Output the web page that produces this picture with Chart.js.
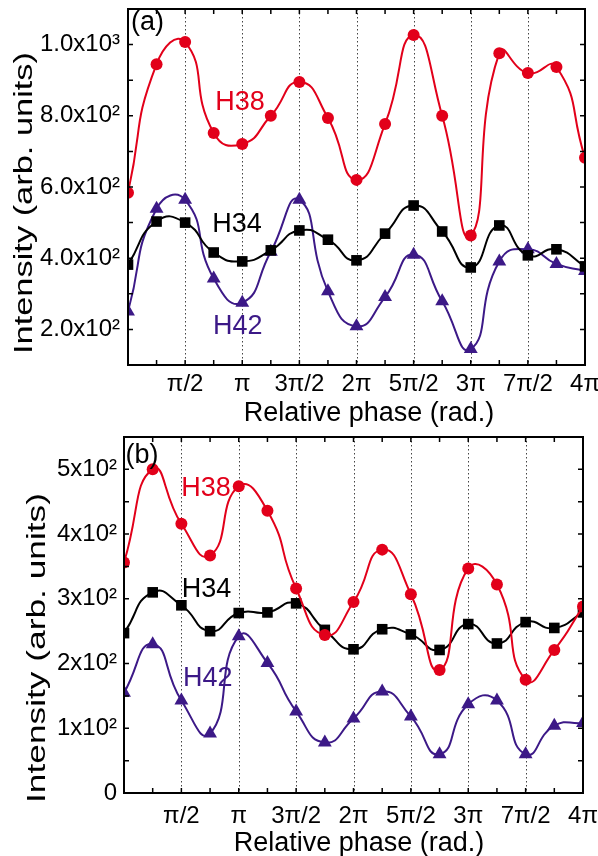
<!DOCTYPE html>
<html>
<head>
<meta charset="utf-8">
<script src="https://cdn.jsdelivr.net/npm/chart.js@4.4.1/dist/chart.umd.min.js"></script>
<style>
  body { margin: 0; background: #fff; }
  .panel { position: absolute; left: 0; width: 598px; height: 428px; }
</style>
</head>
<body>
<div class="panel" style="top:0"><canvas id="chartA" width="598" height="428"></canvas></div>
<div class="panel" style="top:428px"><canvas id="chartB" width="598" height="428"></canvas></div>
<script>
/** --------------------DATA-------------------- */

// relative phase, in units of pi
const phase = [0, 0.25, 0.5, 0.75, 1, 1.25, 1.5, 1.75, 2, 2.25, 2.5, 2.75, 3, 3.25, 3.5, 3.75, 4];
const phaseTicks = [0.5, 1, 1.5, 2, 2.5, 3, 3.5, 4];
const phaseLabels = ['π/2', 'π', '3π/2', '2π', '5π/2', '3π', '7π/2', '4π'];

// panel (a)
const h38A = [584, 945, 1007, 752, 721, 800, 895, 794, 620, 777, 1027, 800, 464, 976, 920, 937, 682];
const h34A = [382, 503, 500, 416, 391, 422, 478, 452, 394, 469, 548, 475, 374, 492, 408, 425, 377];
const h42A = [250, 539, 564, 343, 275, 418, 564, 307, 209, 291, 410, 279, 145, 391, 425, 384, 364];
const yTicksA = [200, 400, 600, 800, 1000];
const yTickLabelsA = ['2.0x10²', '4.0x10²', '6.0x10²', '8.0x10²', '1.0x10³'];

// panel (b)
const h38B = [356, 500, 416, 367, 474, 436, 316, 244, 295, 376, 307, 190, 347, 322, 175, 221, 288];
const h34B = [247, 310, 290, 250, 278, 279, 293, 252, 222, 253, 245, 221, 261, 231, 264, 255, 279];
const h42B = [155, 230, 143, 92, 242, 201, 126, 78, 115, 157, 118, 60, 137, 143, 60, 104, 108];
const yTicksB = [0, 100, 200, 300, 400, 500];
const yTickLabelsB = ['0', '1x10²', '2x10²', '3x10²', '4x10²', '5x10²'];

// text labels inside the plots (data coordinates)
const noteTextA = ['(a)', 'H38', 'H34', 'H42'];
const noteXA = [0.17, 0.98, 0.955, 0.96];
const noteYA = [1063, 836, 494, 209];
const noteTextB = ['(b)', 'H38', 'H34', 'H42'];
const noteXB = [0.157, 0.715, 0.72, 0.73];
const noteYB = [522, 471, 315, 177];

/** --------------------STYLE-------------------- */

const RED = '#e2001a';
const BLACK = '#000000';
const PURPLE = '#3c1987';
const FONT = "'Liberation Sans', Arial, sans-serif";
const noteColors = [BLACK, RED, BLACK, PURPLE];

function series(values, color, style, radius) {
    return {
        data: phase.map((p, i) => ({x: p, y: values[i]})),
        borderColor: color,
        backgroundColor: color,
        borderWidth: 2,
        tension: 0.55,
        pointStyle: style,
        pointRadius: radius,
        pointBorderWidth: 0,
        pointBackgroundColor: color,
    };
}

// frame, inward ticks, dotted lines, tick labels, titles and notes
const framePlugin = {
    id: 'frame',
    beforeDatasetsDraw(chart, args, opts) {
        const ctx = chart.ctx;
        const area = chart.chartArea;
        const xs = chart.scales.x;
        ctx.save();
        ctx.strokeStyle = '#444';
        ctx.lineWidth = 1;
        ctx.setLineDash([1.5, 2.5]);
        phaseTicks.forEach(v => {
            if (v >= 4) return;
            const px = Math.round(xs.getPixelForValue(v)) + 0.5;
            ctx.beginPath();
            ctx.moveTo(px, area.top);
            ctx.lineTo(px, area.bottom);
            ctx.stroke();
        });
        ctx.restore();
    },
    afterDatasetsDraw(chart, args, opts) {
        const ctx = chart.ctx;
        const area = chart.chartArea;
        const xs = chart.scales.x;
        const ys = chart.scales.y;
        ctx.save();
        ctx.strokeStyle = '#000';
        ctx.lineWidth = 1.5;
        xs.ticks.forEach(t => {
            const px = xs.getPixelForValue(t.value);
            ctx.beginPath();
            ctx.moveTo(px, area.bottom);
            ctx.lineTo(px, area.bottom - 5);
            ctx.moveTo(px, area.top);
            ctx.lineTo(px, area.top + 5);
            ctx.stroke();
        });
        ys.ticks.forEach(t => {
            const py = ys.getPixelForValue(t.value);
            ctx.beginPath();
            ctx.moveTo(area.left, py);
            ctx.lineTo(area.left + 5, py);
            ctx.moveTo(area.right, py);
            ctx.lineTo(area.right - 5, py);
            ctx.stroke();
        });
        ctx.lineWidth = 2;
        ctx.strokeRect(area.left, area.top, area.right - area.left, area.bottom - area.top);

        // tick labels
        ctx.fillStyle = '#000';
        ctx.font = '24px ' + FONT;
        ctx.textBaseline = 'middle';
        ctx.textAlign = 'center';
        phaseTicks.forEach((v, i) => {
            ctx.fillText(phaseLabels[i], xs.getPixelForValue(v), opts.xLabelY);
        });
        ctx.textAlign = 'right';
        opts.yTicks.forEach((v, i) => {
            ctx.fillText(opts.yLabels[i], area.left - opts.yPad, ys.getPixelForValue(v));
        });

        // notes
        ctx.font = '27px ' + FONT;
        ctx.textAlign = 'center';
        opts.notes.forEach((txt, i) => {
            ctx.fillStyle = noteColors[i];
            ctx.fillText(txt, xs.getPixelForValue(opts.noteX[i]), ys.getPixelForValue(opts.noteY[i]));
        });

        // x title
        ctx.fillStyle = '#000';
        ctx.textBaseline = 'alphabetic';
        ctx.fillText('Relative phase (rad.)', opts.xTitle[0], opts.xTitle[1]);

        // y title, stretched along its length like the original
        const yText = 'Intensity (arb. units)';
        ctx.font = '25px ' + FONT;
        const w = ctx.measureText(yText).width;
        ctx.translate(opts.yTitle[0], opts.yTitle[1]);
        ctx.rotate(-Math.PI / 2);
        ctx.scale(opts.yTitle[2] / w, 1);
        ctx.fillText(yText, 0, 0);
        ctx.restore();
    }
};

function makeChart(id, cfg) {
    return new Chart(document.getElementById(id), {
        type: 'line',
        data: {
            datasets: [
                series(cfg.h38, RED, 'circle', 6),
                series(cfg.h34, BLACK, 'rect', 7.5),
                series(cfg.h42, PURPLE, 'triangle', 8),
            ]
        },
        options: {
            responsive: false,
            animation: false,
            layout: {padding: cfg.padding},
            plugins: {
                legend: {display: false},
                tooltip: {enabled: false},
                frame: {
                    notes: cfg.notes, noteX: cfg.noteX, noteY: cfg.noteY,
                    xTitle: cfg.xTitle, yTitle: cfg.yTitle,
                    yTicks: cfg.yTicks, yLabels: cfg.yTickLabels,
                    yPad: cfg.yPad, xLabelY: cfg.xLabelY,
                },
            },
            scales: {
                x: {
                    type: 'linear',
                    min: 0,
                    max: 4,
                    afterFit: s => { s.height = 63; },
                    grid: {display: false},
                    border: {display: false},
                    ticks: {stepSize: 0.25, display: false}
                },
                y: {
                    min: cfg.yMin,
                    max: cfg.yMax,
                    afterFit: s => { s.width = cfg.yWidth; },
                    grid: {display: false},
                    border: {display: false},
                    ticks: {stepSize: cfg.yStep, display: false}
                }
            }
        },
        plugins: [framePlugin]
    });
}

makeChart('chartA', {
    h38: h38A, h34: h34A, h42: h42A,
    yMin: 100, yMax: 1100, yStep: 100,
    yTicks: yTicksA, yTickLabels: yTickLabelsA,
    padding: {top: 9, right: 13, left: 0, bottom: 0},
    yWidth: 128, yPad: 8, xLabelY: 384,
    notes: noteTextA, noteX: noteXA, noteY: noteYA,
    xTitle: [369, 421], yTitle: [32, 203, 302],
});

makeChart('chartB', {
    h38: h38B, h34: h34B, h42: h42B,
    yMin: 0, yMax: 550, yStep: 50,
    yTicks: yTicksB, yTickLabels: yTickLabelsB,
    padding: {top: 9, right: 15, left: 0, bottom: 0},
    yWidth: 124, yPad: 7, xLabelY: 388,
    notes: noteTextB, noteX: noteXB, noteY: noteYB,
    xTitle: [359, 423], yTitle: [45, 220, 310],
});
</script>
</body>
</html>
